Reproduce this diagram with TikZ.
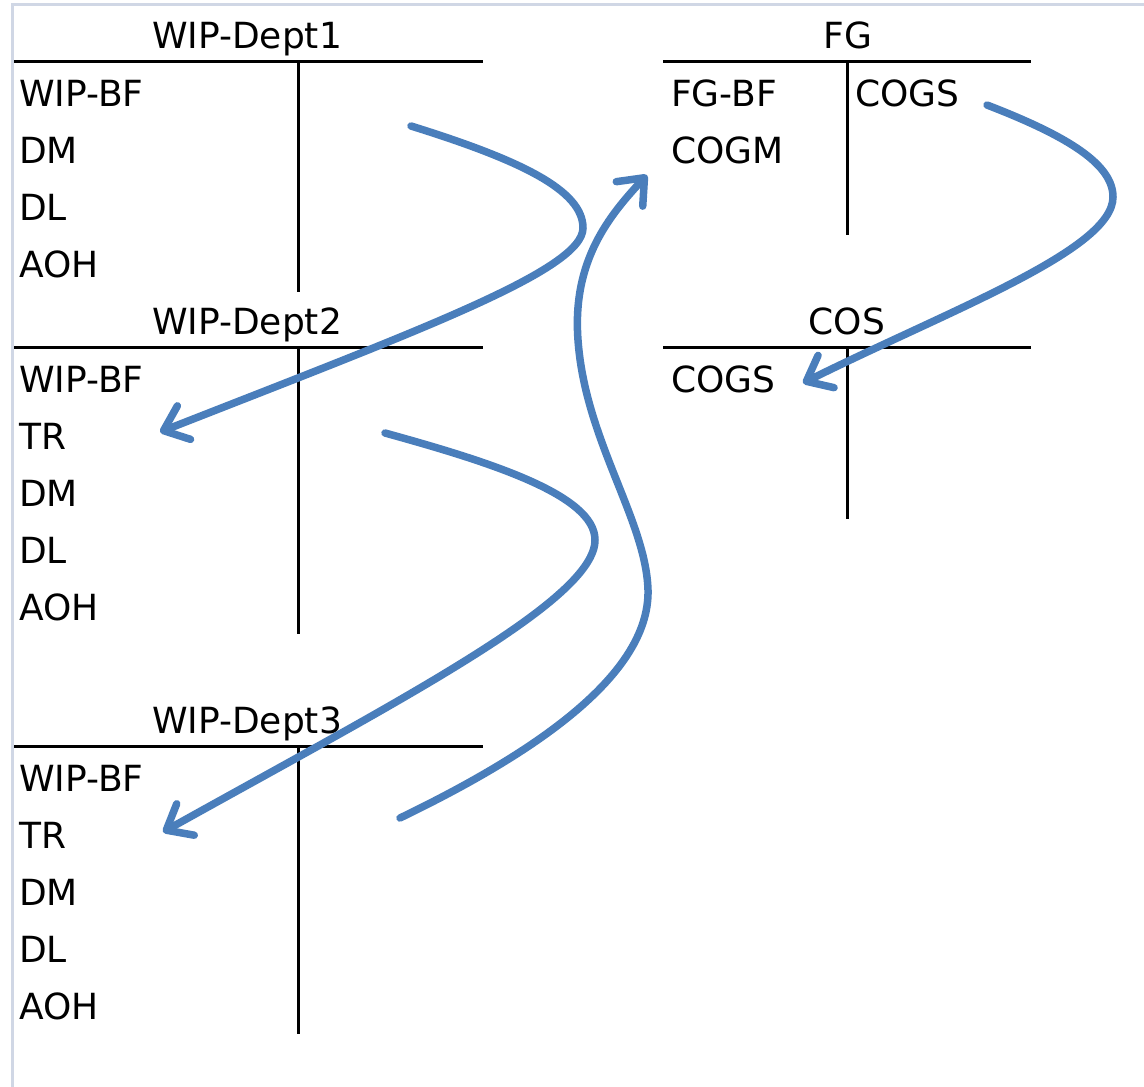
\documentclass[tikz,border=0pt]{standalone}
\usepackage{fontspec}
\setmainfont{DejaVu Sans}
\usetikzlibrary{arrows.meta}
\definecolor{flowblue}{RGB}{74,126,187}
\definecolor{framegrey}{RGB}{208,215,229}
\begin{document}
\begin{tikzpicture}[x=1pt,y=-1pt,
  txt/.style={inner sep=0pt,anchor=base west,font=\fontsize{36}{40}\selectfont},
  ttl/.style={inner sep=0pt,anchor=base,font=\fontsize{36}{40}\selectfont},
  tline/.style={line width=3pt,black},
  flow/.style={line width=7.5pt,flowblue,line cap=round,
    -{Straight Barb[length=22pt,width=36pt,line cap=round,line join=round]}}]
\useasboundingbox (0,0) rectangle (1144,1087);
% frame
\draw[framegrey,line width=3pt] (12.5,1087) -- (12.5,4) -- (1144,4);
% WIP-Dept1
\node[ttl] (t1) at (247,48) {WIP-Dept1};
\draw[tline] (14,61) -- (483,61);
\draw[tline] (298,61) -- (298,292);
\node[txt] (a1) at (19,106) {WIP-BF};
\node[txt] (a2) at (19,163) {DM};
\node[txt] (a3) at (19,220) {DL};
\node[txt] (a4) at (19,277) {AOH};
% WIP-Dept2
\node[ttl] (t2) at (247,334) {WIP-Dept2};
\draw[tline] (14,347) -- (483,347);
\draw[tline] (298,347) -- (298,634);
\node[txt] (b1) at (19,392) {WIP-BF};
\node[txt] (b2) at (19,449) {TR};
\node[txt] (b3) at (19,506) {DM};
\node[txt] (b4) at (19,563) {DL};
\node[txt] (b5) at (19,620) {AOH};
% WIP-Dept3
\node[ttl] (t3) at (247,733) {WIP-Dept3};
\draw[tline] (14,746) -- (483,746);
\draw[tline] (298,746) -- (298,1034);
\node[txt] (c1) at (19,791) {WIP-BF};
\node[txt] (c2) at (19,848) {TR};
\node[txt] (c3) at (19,905) {DM};
\node[txt] (c4) at (19,962) {DL};
\node[txt] (c5) at (19,1019) {AOH};
% FG
\node[ttl] (t4) at (848,48) {FG};
\draw[tline] (663,61) -- (1031,61);
\draw[tline] (847,61) -- (847,235);
\node[txt] (d1) at (671,106) {FG-BF};
\node[txt] (d2) at (671,163) {COGM};
\node[txt] (d3) at (855,106) {COGS};
% COS
\node[ttl] (t5) at (847,334) {COS};
\draw[tline] (663,347) -- (1031,347);
\draw[tline] (847,347) -- (847,519);
\node[txt] (e1) at (671,392) {COGS};
% arrow anchor points
\coordinate (s1) at (411,126);
\coordinate (m1) at (583,228);
\coordinate (e1t) at (160,432);
\coordinate (s2) at (385,433);
\coordinate (m2) at (595,540);
\coordinate (e2t) at (163,832);
\coordinate (s3) at (400,818);
\coordinate (m3a) at (648,590);
\coordinate (m3b) at (578,340);
\coordinate (e3t) at (647,175);
\coordinate (s4) at (987,105);
\coordinate (m4) at (1113,197);
\coordinate (e4t) at (803,383);
% flows
\draw[flow] (s1) .. controls (520,160) and (583,190) .. (m1)
  .. controls (583,270) and (420,330) .. (e1t);
\draw[flow] (s2) .. controls (490,462) and (595,495) .. (m2)
  .. controls (595,600) and (400,700) .. (e2t);
\draw[flow] (s3) .. controls (520,760) and (650,680) .. (m3a)
  .. controls (646,520) and (585,440) .. (m3b)
  .. controls (572,260) and (610,215) .. (e3t);
\draw[flow] (s4) .. controls (1070,137) and (1113,165) .. (m4)
  .. controls (1113,250) and (950,310) .. (e4t);
\end{tikzpicture}
\end{document}
